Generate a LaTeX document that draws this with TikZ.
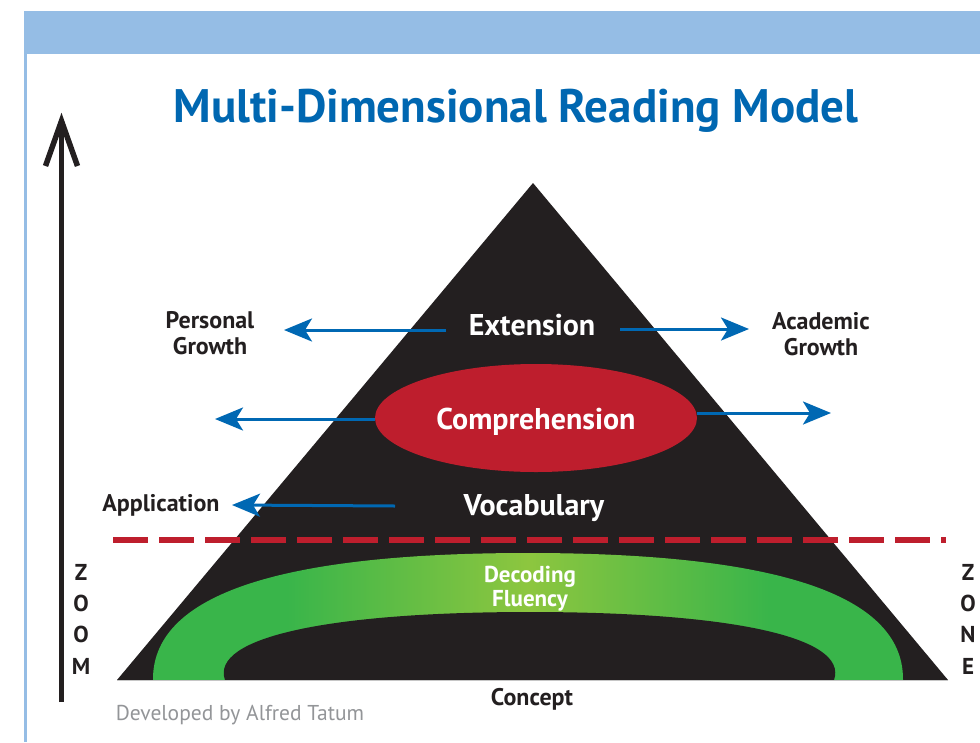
\documentclass[tikz,border=0pt]{standalone}
\usepackage{fontspec}
\setmainfont{PT Sans}
\usetikzlibrary{arrows.meta,shapes.geometric}
\definecolor{barblue}{HTML}{95BDE5}
\definecolor{titleblue}{HTML}{0067B1}
\definecolor{pyrblack}{HTML}{231F20}
\definecolor{compred}{HTML}{BE1E2D}
\definecolor{gdark}{HTML}{39B54A}
\definecolor{glight}{HTML}{8DC63F}
\definecolor{arrowblue}{HTML}{0068B3}
\definecolor{credgray}{HTML}{939598}
\pgfdeclarehorizontalshading{greenband}{100bp}{color(0bp)=(gdark); color(34bp)=(gdark); color(50bp)=(glight); color(66bp)=(gdark); color(100bp)=(gdark)}
\tikzset{
  titletext/.style={text=titleblue, font=\fontsize{47}{52}\selectfont\bfseries, inner sep=0pt},
  intext/.style={text=white, font=\fontsize{30}{34}\selectfont\bfseries, text height=0.7em, text depth=0pt, inner sep=0pt},
  outtext/.style={text=pyrblack, font=\fontsize{24}{26}\selectfont\bfseries, align=center, inner sep=0pt},
  bandtext/.style={text=white, font=\fontsize{23}{24}\selectfont\bfseries, align=center, inner sep=0pt},
  sidetext/.style={text=pyrblack, font=\fontsize{23}{31.3}\selectfont\bfseries, align=center, inner sep=0pt},
  barrow/.style={arrowblue, line width=3pt, -{Stealth[length=28pt,width=23pt,inset=7pt]}},
  zoomline/.style={pyrblack, line width=5.5pt}
}
\begin{document}
\begin{tikzpicture}[x=1pt,y=-1pt]
\useasboundingbox (0,0) rectangle (980,742);
\fill[white] (0,0) rectangle (980,742);
% frame
\fill[barblue] (24,11) rectangle (980,54);
\draw[barblue, line width=2.5pt] (25.5,54) -- (25.5,742);
% title
\node[titletext] (title) at (516,111) {Multi-Dimensional Reading Model};
% pyramid
\coordinate (apex) at (533,183);
\coordinate (bl) at (117,680);
\coordinate (br) at (948,680);
\fill[pyrblack] (bl) -- (apex) -- (br) -- cycle;
% green band
\shade[shading=greenband] (153,680) .. controls (152,588) and (300,553) .. (528,553) .. controls (756,553) and (904,588) .. (903,680) -- cycle;
\fill[pyrblack] (225,680) .. controls (210,637) and (330,612) .. (530,612) .. controls (730,612) and (849,637) .. (834,680) -- cycle;
\draw[gray!45, line width=1pt] ([yshift=-0.5pt]bl) -- ([yshift=-0.5pt]br);
% dashed zone line
\coordinate (dashL) at (113,540);
\coordinate (dashR) at (946,540);
\draw[compred, line width=6pt, dash pattern=on 34.5pt off 11.5pt] (dashL) -- (dashR);
% comprehension ellipse
\node[ellipse, fill=compred, minimum width=322pt, minimum height=108pt, inner sep=0pt] (comp) at (536,418) {};
\node[intext] (comptext) at (536,426) {Comprehension};
% inner labels
\node[intext] (ext) at (532,332) {Extension};
\node[intext] (voc) at (534,512) {Vocabulary};
\node[bandtext] (band) at (530,589) {Decoding\\Fluency};
% outer labels
\node[outtext] (pers) at (210,333) {Personal\\Growth};
\node[outtext] (acad) at (821,334) {Academic\\Growth};
\node[outtext] (app) at (161,505) {Application};
\node[outtext] (concept) at (532,699) {Concept};
\node[text=credgray, font=\fontsize{21.5}{24}\selectfont, inner sep=0pt] (credit) at (240,715) {Developed by Alfred Tatum};
\node[sidetext] (zoomw) at (81,619) {Z\\O\\O\\M};
\node[sidetext] (zonew) at (968,619) {Z\\O\\N\\E};
% blue arrows
\coordinate (extL) at (446,330);
\coordinate (pgtip) at (284,330);
\coordinate (extR) at (620,329);
\coordinate (agtip) at (749,329);
\coordinate (cLtip) at (215,419);
\coordinate (cRtip) at (831,413);
\coordinate (vstart) at (395,506);
\coordinate (apptip) at (232,505);
\draw[barrow] (extL) -- (pgtip);
\draw[barrow] (extR) -- (agtip);
\draw[barrow] (comp.west |- cLtip) -- (cLtip);
\draw[barrow] (comp.east |- cRtip) -- (cRtip);
\draw[barrow] (vstart) -- (apptip);
% zoom arrow
\coordinate (zbot) at (61.5,702);
\coordinate (ztop) at (61.5,121);
\draw[zoomline] (zbot) -- (ztop);
\draw[zoomline, line join=miter] (45.5,166) -- (ztop) -- (77.5,166);
\end{tikzpicture}
\end{document}
